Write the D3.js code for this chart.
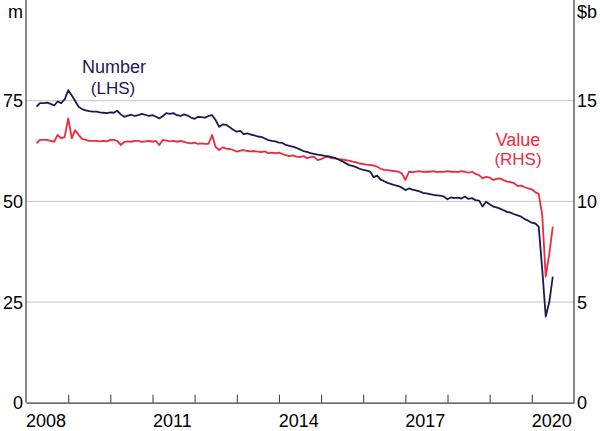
<!DOCTYPE html>
<html><head><meta charset="utf-8">
<script src="https://cdn.jsdelivr.net/npm/d3@7"></script>
<style>
html,body{margin:0;padding:0;background:#fff;}
svg{display:block;}
text{font-family:Arial,"Liberation Sans",sans-serif;}
</style></head>
<body>
<svg id="chart" width="600" height="431"></svg>
<script>
// Monthly data, March 2008 to June 2020 (plotted at month end)
const startYear = 2008, startMonth = 2; // March 2008 (0-based month)
// Number of withdrawals, millions (LHS)
const numberSeries = [
  // 2008 Mar-Dec
  73.5, 74.4, 74.4, 74.5, 74.2, 73.8, 74.8, 74.4, 75.3, 77.6,
  // 2009
  76.3, 75.0, 73.5, 72.9, 72.6, 72.4, 72.3, 72.3, 72.1, 72.0, 71.9, 72.1,
  // 2010
  72.0, 72.5, 71.6, 71.0, 71.3, 71.5, 71.2, 71.4, 71.7, 71.5, 71.2, 71.4,
  // 2011
  71.0, 70.6, 71.2, 71.9, 71.7, 71.9, 71.4, 71.2, 71.6, 71.3, 70.8, 70.5,
  // 2012
  71.0, 70.9, 70.8, 71.2, 71.4, 70.2, 68.5, 69.1, 69.0, 68.4, 67.8, 67.3,
  // 2013
  67.5, 66.7, 66.9, 66.6, 66.4, 66.1, 66.0, 65.6, 65.2, 65.0, 64.9, 64.6,
  // 2014
  64.5, 64.0, 63.8, 63.6, 63.3, 62.9, 62.5, 62.3, 62.0, 61.8, 61.6, 61.5,
  // 2015
  61.3, 61.2, 61.0, 60.8, 60.4, 60.0, 59.5, 59.0, 58.8, 58.5, 58.1, 57.8,
  // 2016
  57.6, 57.4, 56.0, 56.4, 55.4, 55.0, 54.6, 54.3, 54.0, 53.8, 53.4, 52.8,
  // 2017
  53.2, 52.9, 52.7, 52.5, 52.1, 52.0, 51.8, 51.6, 51.5, 51.4, 51.2, 50.5,
  // 2018
  51.0, 50.8, 50.9, 50.7, 51.2, 50.6, 50.8, 50.3, 50.2, 48.7, 49.9, 49.3,
  // 2019
  48.7, 48.5, 48.2, 47.8, 47.4, 47.2, 46.8, 46.5, 46.2, 45.6, 45.2, 44.7,
  // 2020 Jan-Jun
  44.5, 43.7, 33.0, 21.4, 25.0, 31.3
];
// Value of withdrawals, $ billion (RHS)
const valueSeries = [
  // 2008 Mar-Dec
  12.88, 13.05, 13.05, 13.05, 13.0, 12.96, 13.3, 13.13, 13.2, 14.12,
  // 2009
  13.13, 13.54, 13.3, 13.1, 13.05, 13.0, 13.0, 13.0, 12.98, 13.0, 12.98, 13.05,
  // 2010
  13.05, 13.0, 12.8, 12.95, 12.98, 12.96, 13.0, 13.0, 12.95, 12.98, 13.0, 12.96,
  // 2011
  13.0, 12.8, 13.05, 13.02, 12.98, 13.0, 12.96, 13.0, 12.95, 12.9, 12.88, 12.92,
  // 2012
  12.85, 12.88, 12.85, 12.86, 13.3, 12.7, 12.55, 12.68, 12.62, 12.6, 12.55, 12.47,
  // 2013
  12.52, 12.55, 12.5, 12.48, 12.5, 12.47, 12.45, 12.48, 12.39, 12.42, 12.4, 12.42,
  // 2014
  12.35, 12.3, 12.25, 12.28, 12.22, 12.2, 12.25, 12.14, 12.2, 12.22, 12.05, 12.1,
  // 2015
  12.18, 12.22, 12.15, 12.14, 12.1, 12.08, 12.05, 12.02, 11.97, 11.93, 11.88, 11.85,
  // 2016
  11.82, 11.8, 11.78, 11.72, 11.62, 11.56, 11.55, 11.52, 11.5, 11.47, 11.39, 11.06,
  // 2017
  11.47, 11.45, 11.48, 11.5, 11.46, 11.48, 11.47, 11.5, 11.45, 11.48, 11.46, 11.5,
  // 2018
  11.47, 11.48, 11.45, 11.5, 11.47, 11.42, 11.47, 11.36, 11.3, 11.14, 11.22, 11.18,
  // 2019
  11.06, 11.12, 11.14, 11.05, 10.98, 10.95, 10.9, 10.76, 10.78, 10.7, 10.65, 10.6,
  // 2020 Jan-Jun
  10.45, 10.37, 9.3, 6.26, 7.4, 8.74
];
const leftTicks = [0, 25, 50, 75];
const rightTicks = [0, 5, 10, 15];
const yearLabels = [2008, 2011, 2014, 2017, 2020];

const navy = "#1d1a4f", red = "#ee2a3c";

const svg = d3.select("#chart");
const L = 26, R = 574, T = 0, B = 402.7;

const x = d3.scaleTime()
  .domain([new Date(2008, 0, 1), new Date(2021, 0, 1)])
  .range([L, R]);
const yL = d3.scaleLinear().domain([0, 100]).range([B, T]);
const yR = d3.scaleLinear().domain([0, 20]).range([B, T]);

// month-end date for index i
const dateAt = i => new Date(startYear, startMonth + i + 1, 1);

// gridlines
svg.append("g").selectAll("line").data(leftTicks.filter(d => d > 0)).join("line")
  .attr("x1", L).attr("x2", R)
  .attr("y1", d => yL(d)).attr("y2", d => yL(d))
  .attr("stroke", "#c4c4c4").attr("stroke-width", 1);

// lines
const numLine = d3.line().x((d, i) => x(dateAt(i))).y(d => yL(d));
const valLine = d3.line().x((d, i) => x(dateAt(i))).y(d => yR(d));

svg.append("path").datum(valueSeries).attr("d", valLine)
  .attr("fill", "none").attr("stroke", red).attr("stroke-width", 1.8)
  .attr("stroke-linejoin", "round");
svg.append("path").datum(numberSeries).attr("d", numLine)
  .attr("fill", "none").attr("stroke", navy).attr("stroke-width", 1.8)
  .attr("stroke-linejoin", "round");

// frame
const axisColor = "#3a3a3a";
svg.append("line").attr("x1", L).attr("x2", L).attr("y1", T).attr("y2", B)
  .attr("stroke", axisColor).attr("stroke-width", 1.2);
svg.append("line").attr("x1", R).attr("x2", R).attr("y1", T).attr("y2", B)
  .attr("stroke", axisColor).attr("stroke-width", 1.2);

// x axis with year ticks pointing inward
const xAxis = d3.axisBottom(x)
  .ticks(d3.timeYear.every(1))
  .tickSizeInner(-8).tickSizeOuter(0)
  .tickFormat("");
const gx = svg.append("g").attr("transform", `translate(0,${B})`).call(xAxis);
gx.select(".domain").attr("stroke", axisColor).attr("stroke-width", 1.2);
gx.selectAll(".tick line").attr("stroke", axisColor).attr("stroke-width", 1);
gx.selectAll(".tick").filter(d => d <= x.domain()[0] || d >= x.domain()[1]).remove();

// year labels, centred on each year
svg.append("g").selectAll("text").data(yearLabels).join("text")
  .attr("x", d => x(new Date(d, 6, 1)) - 1)
  .attr("y", 427)
  .attr("text-anchor", "middle")
  .attr("font-size", 18).attr("fill", "#000")
  .text(d => d);

// left tick labels
svg.append("g").selectAll("text").data(leftTicks).join("text")
  .attr("x", L - 3).attr("y", d => yL(d) + 6.5)
  .attr("text-anchor", "end").attr("font-size", 18).attr("fill", "#000")
  .text(d => d);
// right tick labels
svg.append("g").selectAll("text").data(rightTicks).join("text")
  .attr("x", R + 3).attr("y", d => yR(d) + 6.5)
  .attr("text-anchor", "start").attr("font-size", 18).attr("fill", "#000")
  .text(d => d);

// unit labels
svg.append("text").attr("x", L - 3).attr("y", 18).attr("text-anchor", "end")
  .attr("font-size", 18).attr("fill", "#000").text("m");
svg.append("text").attr("x", R + 3).attr("y", 18).attr("text-anchor", "start")
  .attr("font-size", 18).attr("fill", "#000").text("$b");

// series labels
svg.append("text").attr("x", 114).attr("y", 73).attr("text-anchor", "middle")
  .attr("font-size", 18).attr("fill", navy).text("Number");
svg.append("text").attr("x", 113).attr("y", 94).attr("text-anchor", "middle")
  .attr("font-size", 17).attr("fill", navy).text("(LHS)");
svg.append("text").attr("x", 518).attr("y", 146).attr("text-anchor", "middle")
  .attr("font-size", 18).attr("fill", red).text("Value");
svg.append("text").attr("x", 518).attr("y", 165).attr("text-anchor", "middle")
  .attr("font-size", 17).attr("fill", red).text("(RHS)");
</script>
</body></html>
